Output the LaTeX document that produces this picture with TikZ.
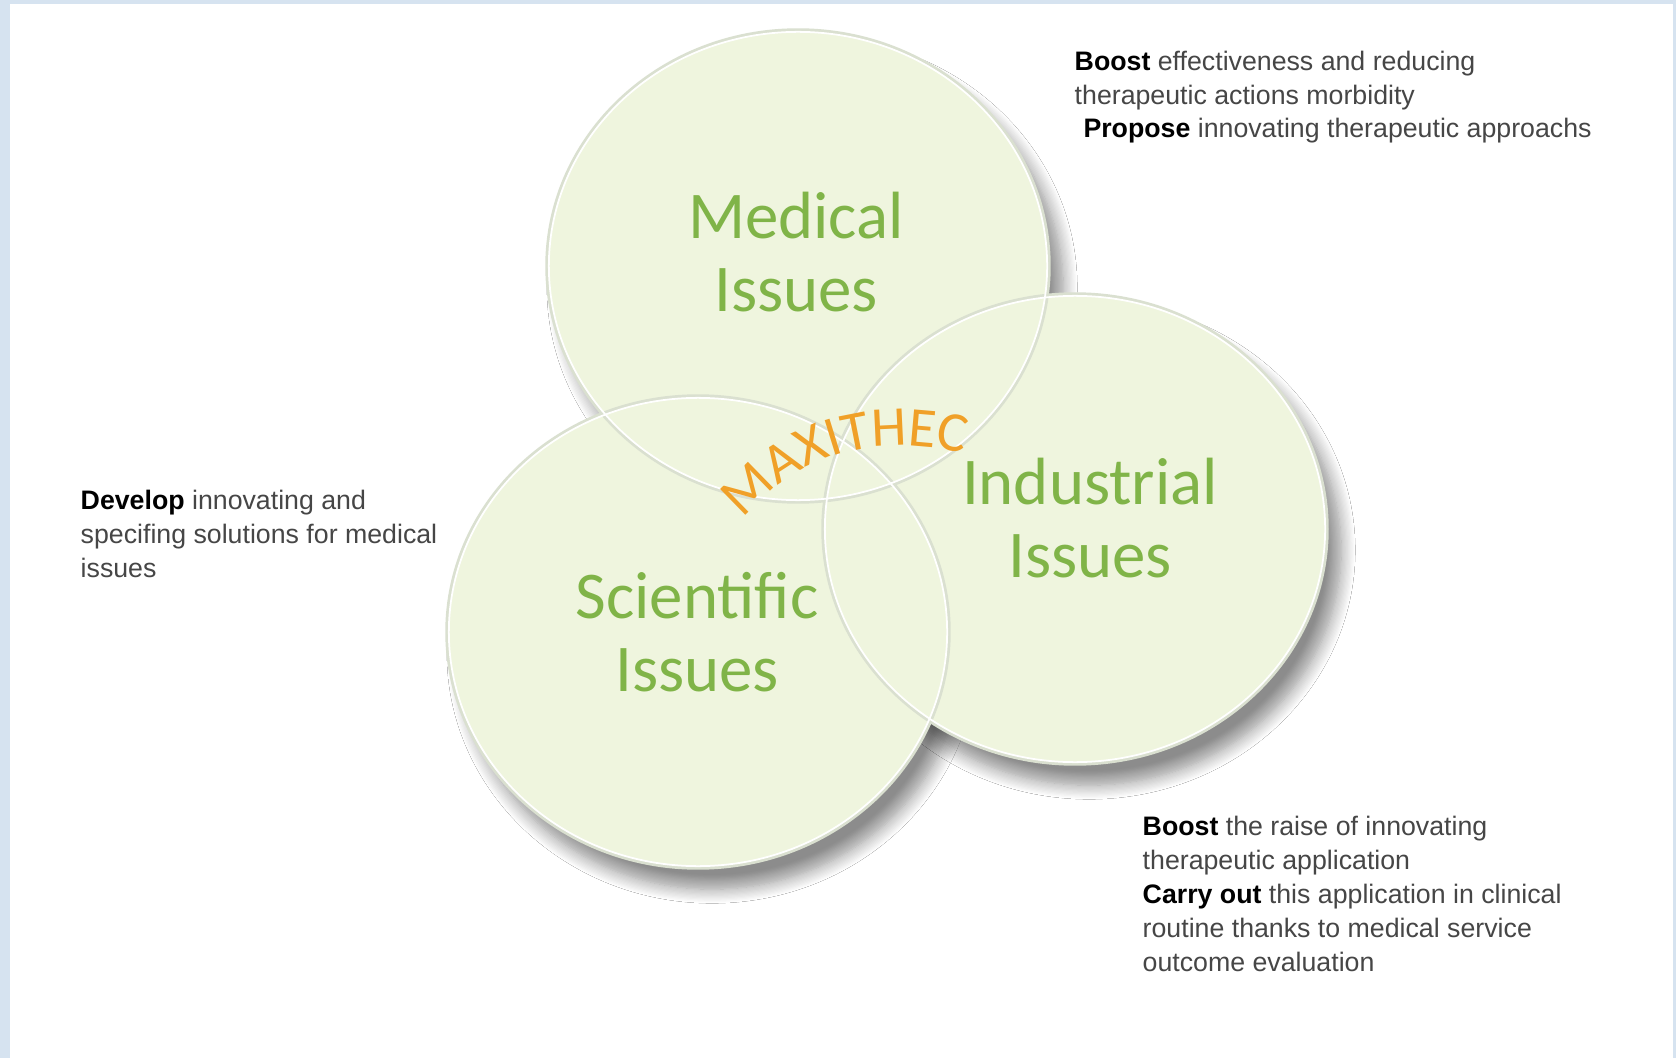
\documentclass[tikz,border=0pt]{standalone}
\usepackage{fontspec}
\setmainfont{Liberation Sans}
\newfontfamily\labelfont{Carlito}
\usetikzlibrary{shadows.blur,decorations.text}
\definecolor{framebg}{RGB}{214,227,240}
\definecolor{circfill}{RGB}{239,245,222}
\definecolor{edgecol}{RGB}{218,224,208}
\definecolor{labgreen}{RGB}{128,180,72}
\definecolor{maxorange}{RGB}{240,160,40}
\definecolor{bodygray}{RGB}{70,70,70}
\tikzset{
  circshadow/.style={blur shadow={shadow xshift=4pt, shadow yshift=-6pt, shadow blur radius=4pt, shadow blur steps=12, shadow opacity=45}},
  circlab/.style={align=center, text=labgreen, font=\labelfont\fontsize{19}{20.7}\selectfont, inner sep=0pt},
  bodytext/.style={anchor=base west, align=left, text=bodygray, font=\fontsize{7.6}{9.6}\selectfont, inner sep=0pt},
}
\newcommand{\bt}[1]{\textcolor{black}{\textbf{#1}}}
\begin{document}
\begin{tikzpicture}[x=0.01cm,y=-0.01cm]
\fill[framebg] (0,0) rectangle (1676,1058);
\fill[white] (10,4) rectangle (1673,1058);
\useasboundingbox (0,0) rectangle (1676,1058);
% circle centres
\coordinate (cmed) at (798,266);
\coordinate (csci) at (698,632);
\coordinate (cind) at (1075,529);
% shadows
\path[circshadow] (cind) ellipse [x radius=2.52cm, y radius=2.35cm];
\path[circshadow] (csci) ellipse [x radius=2.51cm, y radius=2.36cm];
\path[circshadow] (cmed) ellipse [x radius=2.51cm, y radius=2.36cm];
% fills
\fill[circfill] (cind) ellipse [x radius=2.52cm, y radius=2.35cm];
\fill[circfill] (csci) ellipse [x radius=2.51cm, y radius=2.36cm];
\fill[circfill] (cmed) ellipse [x radius=2.51cm, y radius=2.36cm];
% outlines
\draw[edgecol, line width=0.9pt] (cind) ellipse [x radius=2.52cm, y radius=2.35cm];
\draw[edgecol, line width=0.9pt] (csci) ellipse [x radius=2.51cm, y radius=2.36cm];
\draw[edgecol, line width=0.9pt] (cmed) ellipse [x radius=2.51cm, y radius=2.36cm];
\draw[white, line width=0.5pt] (cind) ellipse [x radius=2.50cm, y radius=2.33cm];
\draw[white, line width=0.5pt] (csci) ellipse [x radius=2.49cm, y radius=2.34cm];
\draw[white, line width=0.5pt] (cmed) ellipse [x radius=2.49cm, y radius=2.34cm];
% labels
\node[circlab] (medlab) at (796,252) {Medical\\Issues};
\node[circlab] (scilab) at (697,632) {Scientific\\Issues};
\node[circlab] (indlab) at (1090,518) {Industrial\\Issues};
% MAXITHEC
\path[decorate, decoration={text along path, text align=center,
  text={|\labelfont\fontsize{16}{16}\selectfont\color{maxorange}|MAXITHEC}}]
  (730,538) .. controls (776,468) and (863,420) .. (986,460);
% body texts (anchored at the baseline of the last line)
\node[bodytext] (toptext) at (1074,138) {\bt{Boost} effectiveness and reducing\\therapeutic actions morbidity\\\hspace{2.5pt}\bt{Propose} innovating therapeutic approachs};
\node[bodytext] (lefttext) at (80,577) {\bt{Develop} innovating and\\specifing solutions for medical\\issues};
\node[bodytext] (bottext) at (1142,971) {\bt{Boost} the raise of innovating\\therapeutic application\\\bt{Carry out} this application in clinical\\routine thanks to medical service\\outcome evaluation};
\end{tikzpicture}
\end{document}
